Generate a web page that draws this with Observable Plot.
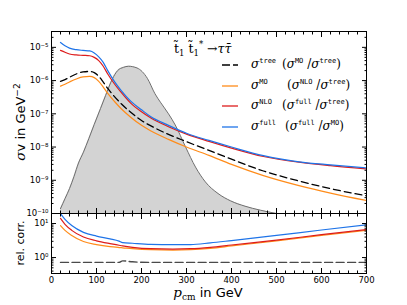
<!DOCTYPE html>
<html><head><meta charset="utf-8">
<script src="https://cdn.jsdelivr.net/npm/d3@7"></script>
<script src="https://cdn.jsdelivr.net/npm/@observablehq/plot@0.6"></script>
<style>
body{margin:0;background:#fff;}
#wrap{position:relative;width:407px;height:305px;overflow:hidden;font-family:"DejaVu Sans";}
#wrap svg{position:absolute;left:0;overflow:visible;}
</style></head><body><div id="wrap"></div>
<script>
// ---- data ----
const pCurve = [20,30,40,55,70,85,95,105,115,125,140,155,176,200,220,260,300,350,400,471,550,620,700];
const sigmaTree = [9.5e-7,1.07e-6,1.26e-6,1.58e-6,1.82e-6,1.88e-6,1.74e-6,1.35e-6,9.0e-7,5.8e-7,3.3e-7,2.0e-7,1.12e-7,6.3e-8,4.4e-8,2.4e-8,1.45e-8,7.9e-9,4.3e-9,1.9e-9,9.5e-10,5.6e-10,3.4e-10];
const sigmaMO   = [6.8e-7,7.8e-7,9.1e-7,1.12e-6,1.29e-6,1.33e-6,1.23e-6,9.5e-7,6.4e-7,4.1e-7,2.35e-7,1.42e-7,7.9e-8,4.5e-8,3.1e-8,1.7e-8,1.0e-8,5.6e-9,3.0e-9,1.38e-9,6.9e-10,4.1e-10,2.45e-10];
const sigmaNLO  = [8.1e-6,7.1e-6,6.3e-6,5.9e-6,5.75e-6,5.6e-6,5.0e-6,4.0e-6,2.7e-6,1.58e-6,7.9e-7,4.4e-7,2.1e-7,1.15e-7,7.6e-8,4.1e-8,2.45e-8,1.48e-8,9.3e-9,5.2e-9,3.5e-9,2.75e-9,2.2e-9];
const sigmaFull = [1.41e-5,1.12e-5,9.5e-6,8.5e-6,8.1e-6,7.8e-6,6.8e-6,5.2e-6,3.55e-6,2.0e-6,9.3e-7,5.0e-7,2.4e-7,1.32e-7,8.3e-8,4.5e-8,2.6e-8,1.58e-8,1.0e-8,5.5e-9,3.6e-9,2.9e-9,2.35e-9];

const pDist = [20,30,40,50,60,71,83,95,109,120,135,147,160,171,190,213,230,242,260,275,298,320,342,370,398,430,464,500];
const dist  = [1.4e-10,2.8e-10,5.6e-10,1.3e-9,3.3e-9,7.0e-9,1.8e-8,4.8e-8,1.45e-7,3.5e-7,1.1e-6,2.0e-6,2.5e-6,2.7e-6,2.4e-6,1.17e-6,4.0e-7,2.24e-7,1.0e-7,4.6e-8,1.0e-8,2.5e-9,8.9e-10,4.0e-10,2.4e-10,1.66e-10,1.26e-10,1.0e-10];

const pRatio = [20,30,45,71,100,130,150,158,180,220,270,309,353,400,500,600,700];
const ratioMOtree   = [0.72,0.72,0.72,0.72,0.72,0.72,0.72,0.80,0.75,0.72,0.72,0.72,0.72,0.72,0.72,0.72,0.72];
const ratioNLOtree  = [8.7,6.3,4.47,2.95,2.4,2.09,1.97,1.93,1.82,1.70,1.66,1.70,1.86,2.19,3.09,4.47,6.3];
const ratioFulltree = [14.1,9.5,6.3,4.0,3.1,2.57,2.3,2.2,2.0,1.82,1.78,1.82,2.0,2.34,3.24,4.7,6.6];
const ratioFullMO   = [19.5,13.2,8.7,5.5,4.27,3.55,3.05,2.75,2.63,2.45,2.4,2.4,2.7,3.16,4.47,6.46,9.1];

const xMajor = [0,100,200,300,400,500,600,700];
const xMinor = d3.range(0,701,20).filter(v => v % 100 !== 0);
const yMainMajor = [1e-10,1e-9,1e-8,1e-7,1e-6,1e-5];
const yMainMinor = [].concat(...[1e-10,1e-9,1e-8,1e-7,1e-6,1e-5].map(d => [2,3,4,5,6,7,8,9].map(k => k*d))).filter(v => v < 3.01e-5);
const yRatMajor = [1,10];
const yRatMinor = [0.4,0.5,0.6,0.7,0.8,0.9,2,3,4,5,6,7,8,9];

const colTree = "#000000", colMO = "#ff8c1a", colNLO = "#dd1c1c", colFull = "#1f74e8";

// ---- helpers ----
const supMap = {"-":"\u207B","0":"\u2070","1":"\u00B9","2":"\u00B2","3":"\u00B3","4":"\u2074","5":"\u2075","6":"\u2076","7":"\u2077","8":"\u2078","9":"\u2079"};
const fmtPow = d => "10" + String(Math.round(Math.log10(d))).split("").map(c => supMap[c]).join("");
const rows = (xs, ys) => xs.map((x, i) => ({x, y: ys[i]}));
const blank = () => "";
function tickAxes(axis, major, minor, anchors) {
  const out = [];
  for (const a of anchors) {
    out.push(axis(major, {anchor: a, tickSize: -5, tickFormat: blank, label: null}));
    out.push(axis(minor, {anchor: a, tickSize: -2.5, tickFormat: blank, label: null}));
  }
  return out;
}
const st = {background: "transparent", fontFamily: "DejaVu Sans", fontSize: "8.5px", color: "black", overflow: "visible"};
const W = 407;

const main = Plot.plot({
  width: W, height: 214, marginTop: 31, marginBottom: 1, marginLeft: 51, marginRight: 41,
  style: st,
  x: {domain: [0, 700]},
  y: {type: "log", domain: [1e-10, 3e-5]},
  marks: [
    Plot.areaY(rows(pDist, dist), {x: "x", y1: 1e-10, y2: "y", fill: "#d3d3d3", curve: "monotone-x"}),
    Plot.line(rows(pDist, dist), {x: "x", y: "y", stroke: "#6e6e6e", strokeWidth: 1, curve: "monotone-x"}),
    Plot.line(rows(pCurve, sigmaTree), {x: "x", y: "y", stroke: colTree, strokeWidth: 1.3, strokeDasharray: "7,4", curve: "monotone-x", clip: true}),
    Plot.line(rows(pCurve, sigmaMO), {x: "x", y: "y", stroke: colMO, strokeWidth: 1.2, curve: "monotone-x", clip: true}),
    Plot.line(rows(pCurve, sigmaNLO), {x: "x", y: "y", stroke: colNLO, strokeWidth: 1.2, curve: "monotone-x", clip: true}),
    Plot.line(rows(pCurve, sigmaFull), {x: "x", y: "y", stroke: colFull, strokeWidth: 1.2, curve: "monotone-x", clip: true}),
    Plot.frame({stroke: "black", strokeWidth: 1}),
    Plot.axisY(yMainMajor, {anchor: "left", tickSize: 0, tickPadding: 3, tickFormat: fmtPow, label: null}),
    ...tickAxes(Plot.axisY, yMainMajor, yMainMinor, ["left", "right"]),
    ...tickAxes(Plot.axisX, xMajor, xMinor, ["top", "bottom"])
  ]
});

const lower = Plot.plot({
  width: W, height: 93, marginTop: 1, marginBottom: 32, marginLeft: 51, marginRight: 41,
  style: st,
  x: {domain: [0, 700]},
  y: {type: "log", domain: [0.34, 19.7]},
  marks: [
    Plot.line(rows(pRatio, ratioMOtree), {x: "x", y: "y", stroke: "#4a4a4a", strokeWidth: 1.4, strokeDasharray: "8,3.5", curve: "monotone-x", clip: true}),
    Plot.line(rows(pRatio, ratioNLOtree), {x: "x", y: "y", stroke: colMO, strokeWidth: 1.2, curve: "monotone-x", clip: true}),
    Plot.line(rows(pRatio, ratioFulltree), {x: "x", y: "y", stroke: colNLO, strokeWidth: 1.2, curve: "monotone-x", clip: true}),
    Plot.line(rows(pRatio, ratioFullMO), {x: "x", y: "y", stroke: colFull, strokeWidth: 1.2, curve: "monotone-x", clip: true}),
    Plot.frame({stroke: "black", strokeWidth: 1}),
    Plot.axisY(yRatMajor, {anchor: "left", tickSize: 0, tickPadding: 3, tickFormat: fmtPow, label: null}),
    Plot.axisX(xMajor, {anchor: "bottom", tickSize: 0, tickPadding: 3, label: null}),
    ...tickAxes(Plot.axisY, yRatMajor, yRatMinor, ["left", "right"]),
    ...tickAxes(Plot.axisX, xMajor, xMinor, ["top", "bottom"])
  ]
});

const wrap = document.getElementById("wrap");
main.style.top = "0px";
lower.style.top = "212px";
wrap.appendChild(main);
wrap.appendChild(lower);

// ---- annotations: titles, legend ----
const ov = d3.select(wrap).append("svg").attr("width", W).attr("height", 305).style("top", "0px");
const serif = "DejaVu Serif", mono = "DejaVu Sans Mono", sans = "DejaVu Sans";

function rich(x, y, parts, opts = {}) {
  const t = ov.append("text").attr("x", x).attr("y", y).attr("fill", "black");
  if (opts.transform) t.attr("transform", opts.transform);
  if (opts.anchor) t.attr("text-anchor", opts.anchor);
  let shift = 0;
  for (const p of parts) {
    const s = t.append("tspan").text(p.t)
      .attr("font-family", p.f || sans)
      .attr("font-size", p.s || 12)
      .attr("font-style", p.i ? "italic" : "normal");
    const target = p.sh || 0;
    s.attr("dy", target - shift);
    shift = target;
  }
  return t;
}

// y label main
rich(0, 0, [
  {t: "\u03C3", f: serif, i: true, s: 13.5},
  {t: "v in GeV", f: sans, s: 13},
  {t: "\u22122", f: sans, s: 9, sh: -5}
], {transform: "translate(25,122) rotate(-90)", anchor: "middle"});
// y label ratio
rich(0, 0, [{t: "rel. corr.", f: sans, s: 11}], {transform: "translate(24,243) rotate(-90)", anchor: "middle"});
// x label
rich(208, 297, [
  {t: "p", f: serif, i: true, s: 13.5},
  {t: "cm", f: serif, s: 9, sh: 3},
  {t: " in GeV", f: sans, s: 13, sh: 0}
], {anchor: "middle"});

// process title
rich(174, 53, [
  {t: "t\u0303", f: serif, s: 12.5},
  {t: "1", f: serif, s: 8.5, sh: 2.5},
  {t: " t\u0303", f: serif, s: 12.5, sh: 0},
  {t: "1", f: serif, s: 8.5, sh: 2.5},
  {t: "*", f: serif, s: 8.5, sh: -6},
  {t: " \u2192", f: serif, s: 12.5, sh: 0},
  {t: "\u03C4\u03C4\u0304", f: serif, i: true, s: 12.5}
]);

// legend
const legendNames = [["tree"], ["MO"], ["NLO"], ["full"]];
const legendNum = ["MO", "NLO", "full", "full"];
const legendDen = ["tree", "tree", "tree", "MO"];
const legendCols = [colTree, colMO, colNLO, colFull];
const legendY = [68, 89, 109, 130];
const legendX2 = [282, 287, 282, 285];
legendNames.forEach((nm, i) => {
  const y = legendY[i];
  const ln = ov.append("line").attr("x1", 222).attr("x2", 238).attr("y1", y - 3).attr("y2", y - 3)
    .attr("stroke", legendCols[i]).attr("stroke-width", 1.3);
  if (i === 0) ln.attr("stroke-dasharray", "8,3");
  rich(251, y, [
    {t: "\u03C3", f: serif, i: true, s: 12},
    {t: nm[0], f: mono, s: 7, sh: -5}
  ]);
  rich(legendX2[i], y, [
    {t: "(", f: serif, s: 12},
    {t: "\u03C3", f: serif, i: true, s: 12},
    {t: legendNum[i], f: mono, s: 7, sh: -5},
    {t: " /", f: serif, s: 12, sh: 0},
    {t: "\u03C3", f: serif, i: true, s: 12},
    {t: legendDen[i], f: mono, s: 7, sh: -5},
    {t: ")", f: serif, s: 12, sh: 0}
  ]);
});
</script></body></html>
